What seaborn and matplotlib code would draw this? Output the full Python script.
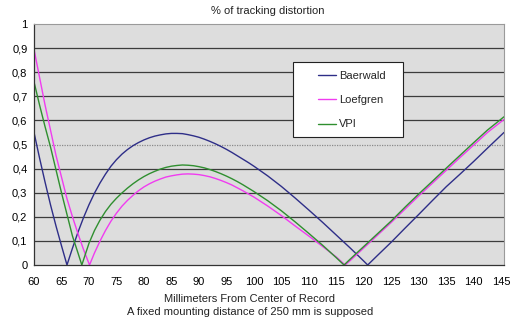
import numpy as np
import pandas as pd
import matplotlib
matplotlib.use("Agg")
import matplotlib.pyplot as plt
from matplotlib.patches import Rectangle
from matplotlib.ticker import FuncFormatter
import seaborn as sns

# Tracking distortion (%) versus radius on the record, three arm alignments
baerwald_mm = [60, 61, 62, 63, 64, 65, 66, 67, 68, 69, 70, 71, 72, 73, 74, 75, 76, 77, 78,
               79, 80, 81, 82, 83, 84, 85, 86, 87, 88, 89, 90, 91, 92, 93, 94, 95, 96, 97,
               98, 99, 100, 102.5, 105, 107.5, 110, 112.5, 115, 117.5, 120, 120.7, 122.5,
               125, 127.5, 130, 132.5, 135, 137.5, 140, 142.5, 145.5]
baerwald_pct = [0.55, 0.445, 0.345, 0.25, 0.162, 0.08, 0.0, 0.07, 0.136, 0.196, 0.25,
                0.298, 0.34, 0.377, 0.41, 0.437, 0.46, 0.479, 0.495, 0.508, 0.519, 0.528,
                0.535, 0.54, 0.544, 0.546, 0.546, 0.545, 0.541, 0.536, 0.53, 0.522, 0.513,
                0.503, 0.492, 0.48, 0.467, 0.453, 0.439, 0.425, 0.41, 0.37, 0.326, 0.278,
                0.228, 0.177, 0.124, 0.071, 0.016, 0.0, 0.04, 0.095, 0.153, 0.21, 0.268,
                0.325, 0.377, 0.43, 0.485, 0.55]

loefgren_mm = [60, 61, 62, 63, 64, 65, 66, 67, 68, 69, 70.1, 71, 72, 73, 74, 75, 76, 77,
               78, 79, 80, 81, 82, 83, 84, 85, 86, 87, 88, 89, 90, 91, 92, 93, 94, 95, 96,
               97, 98, 99, 100, 102.5, 105, 107.5, 110, 112.5, 115, 116.6, 117.5, 120,
               122.5, 125, 127.5, 130, 132.5, 135, 137.5, 140, 142.5, 145.5]
loefgren_pct = [0.895, 0.78, 0.665, 0.56, 0.455, 0.365, 0.275, 0.2, 0.13, 0.065, 0.0, 0.05,
                0.099, 0.143, 0.182, 0.215, 0.244, 0.268, 0.289, 0.308, 0.324, 0.337,
                0.348, 0.357, 0.365, 0.37, 0.374, 0.377, 0.378, 0.377, 0.375, 0.371, 0.366,
                0.359, 0.351, 0.342, 0.332, 0.32, 0.308, 0.295, 0.282, 0.245, 0.205,
                0.162, 0.12, 0.077, 0.033, 0.0, 0.018, 0.071, 0.124, 0.177, 0.232, 0.287,
                0.34, 0.393, 0.446, 0.498, 0.55, 0.604]

vpi_mm = [60, 61, 62, 63, 64, 65, 66, 67, 68, 68.7, 70, 71, 72, 73, 74, 75, 76, 77, 78, 79,
          80, 81, 82, 83, 84, 85, 86, 87, 88, 89, 90, 91, 92, 93, 94, 95, 96, 97, 98, 99,
          100, 102.5, 105, 107.5, 110, 112.5, 115, 116.4, 117.5, 120, 122.5, 125, 127.5,
          130, 132.5, 135, 137.5, 140, 142.5, 145.5]
vpi_pct = [0.76, 0.665, 0.575, 0.49, 0.395, 0.3, 0.21, 0.12, 0.05, 0.0, 0.09, 0.143, 0.186,
           0.222, 0.252, 0.277, 0.299, 0.319, 0.337, 0.353, 0.367, 0.379, 0.389, 0.398,
           0.405, 0.41, 0.413, 0.415, 0.414, 0.412, 0.408, 0.403, 0.396, 0.388, 0.379,
           0.369, 0.358, 0.346, 0.333, 0.319, 0.305, 0.267, 0.225, 0.179, 0.131, 0.082,
           0.03, 0.0, 0.024, 0.077, 0.13, 0.183, 0.24, 0.295, 0.348, 0.402, 0.455, 0.508,
           0.56, 0.615]

series_names = ["Baerwald", "Loefgren", "VPI"]
series_colors = ["#2e2e88", "#f03cf0", "#2f8f2f"]
x_ticks = list(range(60, 146, 5))
y_ticks = [round(0.1 * i, 1) for i in range(11)]

frames = []
for name, mm, pct in zip(series_names,
                         [baerwald_mm, loefgren_mm, vpi_mm],
                         [baerwald_pct, loefgren_pct, vpi_pct]):
    frames.append(pd.DataFrame({"mm": mm, "pct": pct, "series": name}))
df = pd.concat(frames, ignore_index=True)

sns.set_theme(style="white")
plt.rcParams["font.family"] = ["Liberation Sans", "DejaVu Sans"]

W, H = 525, 326
fig = plt.figure(figsize=(W / 100, H / 100), dpi=100)
ax = fig.add_axes([34 / W, 1 - 265 / H, 470 / W, 241 / H])
ax.set_facecolor("#dddddd")

sns.lineplot(data=df, x="mm", y="pct", hue="series", hue_order=series_names,
             palette=series_colors, estimator=None, sort=True, linewidth=1.0, ax=ax)

ax.set_xlim(60, 145.5)
ax.set_ylim(0, 1)
ax.set_xticks(x_ticks)
ax.set_yticks(y_ticks)
ax.yaxis.set_major_formatter(FuncFormatter(
    lambda v, _: ("%g" % round(v, 1)).replace(".", ",")))
ax.tick_params(axis="both", labelsize=8, colors="#222222", direction="out")
ax.tick_params(axis="y", length=2.2, width=0.8, pad=2.5)
ax.tick_params(axis="x", length=2.2, width=0.8, pad=6.5)
for lab in ax.get_xticklabels() + ax.get_yticklabels():
    lab.set_color("black")

# horizontal gridlines; the 0.5 and 1.0 levels are drawn as faint dotted lines
ax.set_axisbelow(True)
ax.yaxis.grid(True, color="#3c3c3c", linewidth=0.9)
for val, gl in zip(y_ticks, ax.get_ygridlines()):
    if abs(val - 0.5) < 1e-9:
        gl.set_color("#8a8a8a")
        gl.set_linestyle((0, (1, 1)))
    elif val in (0.0, 1.0):
        gl.set_visible(False)

ax.set_xlabel("")
ax.set_ylabel("")
for side in ("left", "bottom"):
    ax.spines[side].set_color("#333333")
    ax.spines[side].set_linewidth(0.9)
ax.spines["right"].set_color("#9a9a9a")
ax.spines["right"].set_linewidth(0.8)
ax.spines["top"].set_color("#9a9a9a")
ax.spines["top"].set_linewidth(0.8)
ax.spines["top"].set_linestyle((0, (1, 1)))

# legend box
handles, labels = ax.get_legend_handles_labels()
ax.legend_.remove()
box = Rectangle((293 / W, 1 - 137 / H), 110 / W, 75 / H, transform=fig.transFigure,
                facecolor="white", edgecolor="#222222", linewidth=0.8,
                clip_on=False, zorder=5)
ax.add_patch(box)
leg = ax.legend(handles, labels, loc="upper left",
                bbox_to_anchor=(312 / W, 1 - 65 / H), bbox_transform=fig.transFigure,
                frameon=False, fontsize=8, borderpad=0, handlelength=1.7,
                handletextpad=0.2, labelspacing=1.3)
leg.set_zorder(6)
for line in leg.get_lines():
    line.set_linewidth(1.0)

fig.text(268 / W, 1 - 11 / H, "% of tracking distortion", ha="center", va="center",
         fontsize=8, color="#222222")
fig.text(250 / W, 1 - 299 / H, "Millimeters From Center of Record", ha="center",
         va="center", fontsize=8, color="#222222")
fig.text(250 / W, 1 - 312 / H, "A fixed mounting distance of 250 mm is supposed",
         ha="center", va="center", fontsize=8, color="#222222")

fig.savefig("out.png", dpi=100, facecolor="white")
